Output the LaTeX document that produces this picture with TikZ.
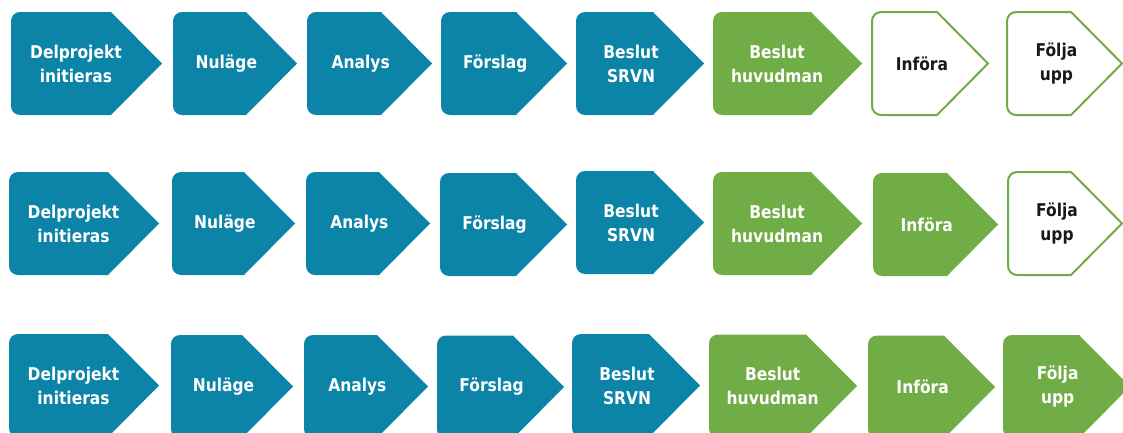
\documentclass[tikz,border=0pt]{standalone}
\usepackage{fontspec}
\setmainfont{DejaVu Sans}[BoldFeatures={FakeStretch=0.88}]
\usepackage{tikz}
\usetikzlibrary{positioning}

\definecolor{phaseblue}{RGB}{11,132,167}
\definecolor{phasegreen}{RGB}{112,173,71}

\tikzset{
  bluephase/.style={fill=phaseblue, text=white},
  greenphase/.style={fill=phasegreen, text=white},
  openphase/.style={fill=white, draw=phasegreen, line width=1.5pt, text=black!90},
  phasetext/.style={align=center, inner sep=0pt, font=\fontsize{13.2}{18}\selectfont\bfseries}
}

% #1 name, #2 left, #3 tip, #4 middle y, #5 style, #6 text
\newcommand{\phase}[6]{%
  \path[#5] (#2+9,#4-51.5) -- (#3-51,#4-51.5) -- (#3,#4) -- (#3-51,#4+51.5)
    -- (#2+9,#4+51.5) arc[start angle=90,end angle=180,radius=9]
    -- (#2,#4-42.5) arc[start angle=180,end angle=270,radius=9] -- cycle;
  \node[#5, draw=none, fill=none, phasetext] (#1) at ({#2+0.43*(#3-#2)},#4) {#6};
}

\begin{document}
\begin{tikzpicture}[x=0.75pt,y=-0.75pt]
  \useasboundingbox (0,0) rectangle (1123,432);
  \clip (0,0) rectangle (1123,432);

  %row 1
  \phase{del1}{11}{162}{63.5}{bluephase}{Delprojekt\\initieras}
  \phase{nul1}{173}{297}{63.5}{bluephase}{Nuläge}
  \phase{ana1}{307}{432}{63.5}{bluephase}{Analys}
  \phase{for1}{441}{567}{63.5}{bluephase}{Förslag}
  \phase{srvn1}{576}{704}{63.5}{bluephase}{Beslut\\SRVN}
  \phase{huv1}{713}{862}{63.5}{greenphase}{Beslut\\huvudman}
  \phase{inf1}{872}{988}{63.5}{openphase}{Införa}
  \phase{fol1}{1007}{1122}{63.5}{openphase}{Följa\\upp}

  %row 2
  \phase{del2}{9}{159}{223.5}{bluephase}{Delprojekt\\initieras}
  \phase{nul2}{172}{295}{223.5}{bluephase}{Nuläge}
  \phase{ana2}{306}{430}{223.5}{bluephase}{Analys}
  \phase{for2}{440}{567}{224.5}{bluephase}{Förslag}
  \phase{srvn2}{576}{704}{222.5}{bluephase}{Beslut\\SRVN}
  \phase{huv2}{713}{862}{223.5}{greenphase}{Beslut\\huvudman}
  \phase{inf2}{873}{998}{224.5}{greenphase}{Införa}
  \phase{fol2}{1008}{1122}{223.5}{openphase}{Följa\\upp}

  %row 3
  \phase{del3}{9}{159}{385.5}{bluephase}{Delprojekt\\initieras}
  \phase{nul3}{171}{293}{386.5}{bluephase}{Nuläge}
  \phase{ana3}{304}{428}{386.5}{bluephase}{Analys}
  \phase{for3}{437}{564}{387}{bluephase}{Förslag}
  \phase{srvn3}{572}{700}{385.5}{bluephase}{Beslut\\SRVN}
  \phase{huv3}{709}{857}{386}{greenphase}{Beslut\\huvudman}
  \phase{inf3}{868}{995}{387}{greenphase}{Införa}
  \phase{fol3}{1003}{1130}{386.5}{greenphase}{Följa\\upp}
\end{tikzpicture}
\end{document}
